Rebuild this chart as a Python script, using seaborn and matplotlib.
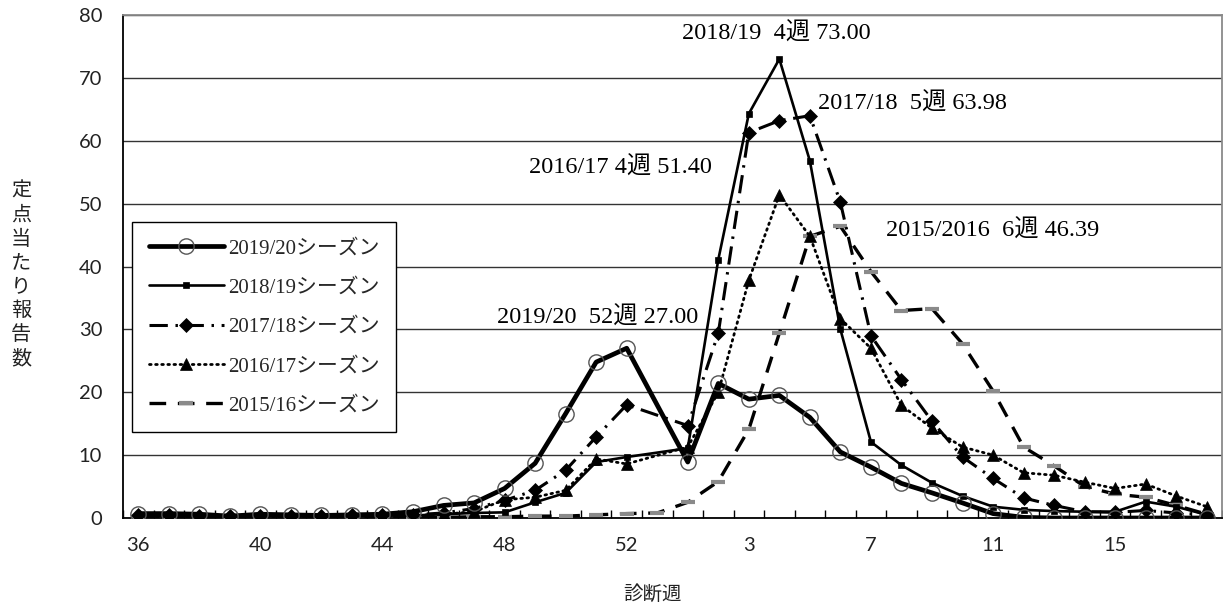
import numpy as np
import pandas as pd
import matplotlib
matplotlib.use("Agg")
import matplotlib.pyplot as plt
import seaborn as sns
from matplotlib.lines import Line2D

nan = np.nan

# Diagnosis weeks: 36-53 of the first year, then 1-18 of the next
weeks = list(range(36, 54)) + list(range(1, 19))
week_labels = [str(w) for w in weeks]

# Reports per sentinel site, one list per season (nan = no week 53)
s2019_20 = [0.7, 0.7, 0.6, 0.3, 0.6, 0.5, 0.4, 0.5, 0.6, 1.0, 2.0, 2.4, 4.7, 8.7, 16.6, 24.8, 27.0, nan,
            8.9, 21.4, 18.9, 19.5, 16.0, 10.5, 8.1, 5.5, 4.0, 2.4, 0.7, 0.1, 0.0, 0.0, 0.0, 0.0, 0.0, 0.0]
s2018_19 = [0.3, 0.3, 0.3, 0.2, 0.3, 0.3, 0.3, 0.3, 0.4, 0.4, 0.6, 0.8, 0.9, 2.5, 4.0, 8.9, 9.7, nan,
            11.1, 41.1, 64.3, 73.0, 56.8, 30.0, 12.1, 8.4, 5.6, 3.5, 1.8, 1.3, 1.1, 1.0, 1.0, 2.6, 1.8, 0.5]
s2017_18 = [0.4, 0.4, 0.3, 0.3, 0.3, 0.3, 0.3, 0.4, 0.4, 0.5, 0.8, 1.5, 2.8, 4.4, 7.6, 12.9, 18.0, nan,
            14.7, 29.4, 61.3, 63.2, 63.98, 50.2, 29.0, 22.0, 15.4, 9.7, 6.3, 3.2, 2.0, 1.0, 0.9, 1.2, 0.8, 0.5]
s2016_17 = [0.2, 0.2, 0.2, 0.2, 0.2, 0.2, 0.3, 0.3, 0.3, 0.4, 0.6, 1.0, 2.9, 3.3, 4.4, 9.4, 8.6, nan,
            11.3, 20.0, 37.8, 51.4, 44.8, 31.7, 27.0, 17.9, 14.3, 11.3, 10.0, 7.2, 6.8, 5.7, 4.7, 5.4, 3.5, 1.8]
s2015_16 = [0.1, 0.1, 0.1, 0.1, 0.1, 0.1, 0.1, 0.1, 0.1, 0.1, 0.1, 0.2, 0.2, 0.3, 0.3, 0.5, 0.7, 0.8,
            2.5, 5.8, 14.1, 29.4, 44.8, 46.39, 39.2, 33.0, 33.3, 27.7, 20.2, 11.3, 8.3, 5.0, 3.8, 3.3, 2.0, 0.6]

seasons = ["2019/20シーズン", "2018/19シーズン", "2017/18シーズン", "2016/17シーズン", "2015/16シーズン"]
series = [s2019_20, s2018_19, s2017_18, s2016_17, s2015_16]

rows = []
for name, vals in zip(seasons, series):
    for pos, v in enumerate(vals):
        rows.append({"season": name, "pos": pos, "value": v})
df = pd.DataFrame(rows).dropna()

styles = {
    "2019/20シーズン": dict(color="black", linewidth=3.4, linestyle="-", marker="o", markersize=11,
                          markerfacecolor="none", markeredgecolor="#555555", markeredgewidth=1.0),
    "2018/19シーズン": dict(color="black", linewidth=1.9, linestyle="-", marker="s", markersize=4.5,
                          markerfacecolor="black", markeredgecolor="black", markeredgewidth=0.5),
    "2017/18シーズン": dict(color="black", linewidth=2.2, linestyle=(0, (6, 2.5, 0.8, 2.5)), marker="D",
                          markersize=7, markerfacecolor="black", markeredgecolor="black", markeredgewidth=0.5),
    "2016/17シーズン": dict(color="black", linewidth=2.0, linestyle=(0, (0.6, 1.6)), dash_capstyle="round",
                          marker="^", markersize=8, markerfacecolor="black", markeredgecolor="black",
                          markeredgewidth=0.5),
    "2015/16シーズン": dict(color="black", linewidth=2.4, linestyle=(0, (5, 3.5)), marker="_", markersize=10,
                          markeredgecolor="#8a8a8a", markeredgewidth=3.0),
}

sns.set_theme(style="white")
plt.rcParams["font.family"] = ["Liberation Serif", "Noto Sans CJK JP"]

fig = plt.figure(figsize=(12.23, 6.06), dpi=100)
ax = fig.add_axes([123 / 1223, 88 / 606, 1099 / 1223, 503 / 606])

# older seasons first so the current season sits on top
for name in seasons[::-1]:
    sub = df[df["season"] == name]
    sns.lineplot(data=sub, x="pos", y="value", ax=ax, estimator=None, sort=True,
                 legend=False, zorder=3, **styles[name])

ax.set_xlim(-0.5, len(weeks) - 0.5)
ax.set_ylim(0, 80)
ax.set_yticks(np.arange(0, 81, 10))
ax.set_xticks(range(0, len(weeks), 4))
ax.set_xticklabels(week_labels[::4])
ax.set_xticks(np.arange(-0.5, len(weeks), 1), minor=True)
ax.tick_params(axis="x", which="major", length=0, pad=14, labelsize=14.5, labelcolor="#222222")
ax.tick_params(axis="x", which="minor", length=6, width=1.0, direction="in", color="black", bottom=True)
ax.tick_params(axis="y", which="major", length=0, pad=15, labelsize=14.5, labelcolor="#222222")
for lab in ax.get_xticklabels() + ax.get_yticklabels():
    lab.set_fontfamily(["Lato", "DejaVu Sans"])

ax.yaxis.grid(True, color="#333333", linewidth=1.0, zorder=0)
ax.xaxis.grid(False)
ax.set_axisbelow(True)
for side in ["left", "bottom"]:
    ax.spines[side].set_color("black")
    ax.spines[side].set_linewidth(1.3)
for side in ["top", "right"]:
    ax.spines[side].set_color("#8a8a8a")
    ax.spines[side].set_linewidth(1.3)

ax.set_xlabel("診断週", fontsize=14, family=["Noto Sans CJK JP"], color="#222222")
ax.xaxis.set_label_coords((652 - 123) / 1099, (518 - 584) / 503)
ax.set_ylabel("\n".join("定点当たり報告数"), rotation=0, fontsize=14.5, family=["Noto Sans CJK JP"],
              linespacing=1.18, color="#222222", va="center", ha="center")
ax.yaxis.set_label_coords((21 - 123) / 1099, (518 - 275) / 503)

# Peak annotations
ann_font = dict(fontsize=17.5, family=["Liberation Serif", "Noto Sans CJK JP"], color="black")
ax.text(20.9, 77.1, f"2018/19  4週 {73.00:.2f}", ha="center", va="center", **ann_font)
ax.text(22.25, 65.9, f"2017/18  5週 {63.98:.2f}", ha="left", va="center", **ann_font)
ax.text(18.8, 55.7, f"2016/17 4週 {51.40:.2f}", ha="right", va="center", **ann_font)
ax.text(24.5, 45.7, f"2015/2016  6週 {46.39:.2f}", ha="left", va="center", **ann_font)
ax.text(11.76, 31.9, f"2019/20  52週 {27.00:.2f}", ha="left", va="center", **ann_font)

handles = [Line2D([], [], **styles[name]) for name in seasons]
leg = ax.legend(handles, seasons, loc="upper left", bbox_to_anchor=((132 - 123) / 1099, (518 - 222) / 503),
                borderaxespad=0, frameon=True, fancybox=False, framealpha=1, edgecolor="black",
                handlelength=3.6, handletextpad=0.2, labelspacing=0.95, borderpad=0.8,
                prop={"family": ["Liberation Serif", "Noto Sans CJK JP"], "size": 15})
leg.get_frame().set_linewidth(1.0)

fig.savefig("out.png", dpi=100, facecolor="white")
